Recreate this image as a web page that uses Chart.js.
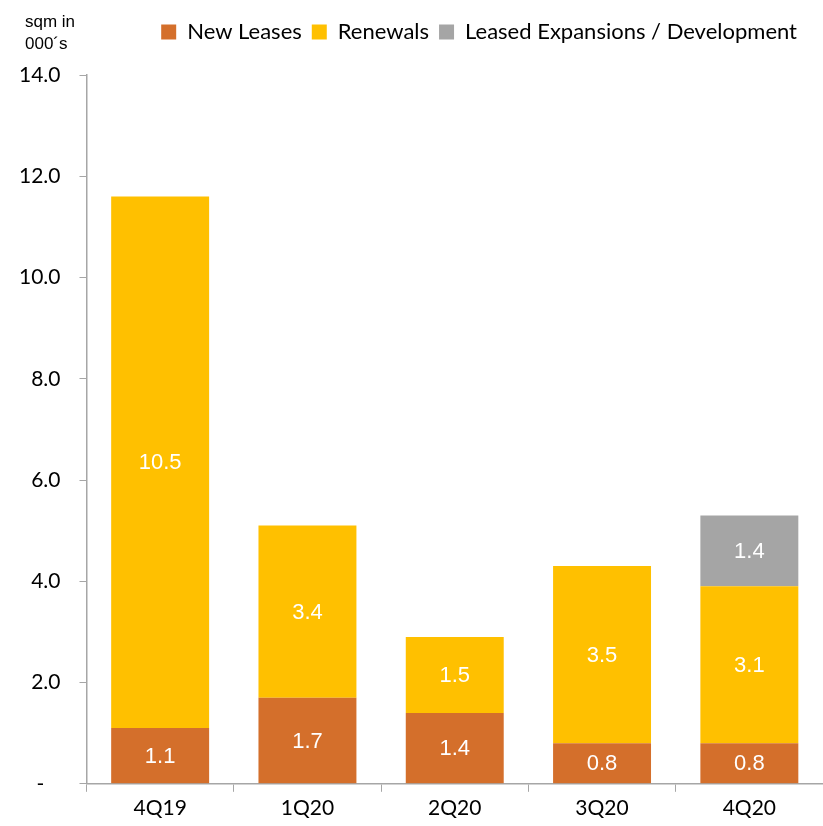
<!DOCTYPE html>
<html>
<head>
<meta charset="utf-8">
<script src="https://cdn.jsdelivr.net/npm/chart.js@4/dist/chart.umd.min.js"></script>
<style>
  html, body { margin: 0; padding: 0; background: #fff; }
  #wrap { width: 823px; height: 826px; }
</style>
</head>
<body>
<div id="wrap"><canvas id="myChart"></canvas></div>
<script>
var quarters = ['4Q19', '1Q20', '2Q20', '3Q20', '4Q20'];
var newLeases = [1.1, 1.7, 1.4, 0.8, 0.8];
var renewals = [10.5, 3.4, 1.5, 3.5, 3.1];
var expansions = [null, null, null, null, 1.4];
var yTicks = [0, 2, 4, 6, 8, 10, 12, 14];

var axisFont = { family: 'Lato, "Liberation Sans", sans-serif', size: 21 };

// white value labels in the middle of each stacked segment
var segmentLabels = {
    id: 'segmentLabels',
    afterDatasetsDraw: function (chart) {
        var c = chart.ctx;
        c.save();
        c.fillStyle = '#ffffff';
        c.font = '22px "Liberation Sans", Arial, sans-serif';
        c.textAlign = 'center';
        c.textBaseline = 'middle';
        chart.data.datasets.forEach(function (ds, i) {
            chart.getDatasetMeta(i).data.forEach(function (bar, j) {
                var v = ds.data[j];
                if (v === null || v === undefined) return;
                c.fillText(v.toFixed(1), bar.x, (bar.y + bar.base) / 2 + 1);
            });
        });
        c.restore();
    }
};

// unit note above the value axis
var unitNote = {
    id: 'unitNote',
    afterDraw: function (chart) {
        var c = chart.ctx;
        c.save();
        c.fillStyle = '#000000';
        c.font = '17px "Liberation Sans", Arial, sans-serif';
        c.textAlign = 'left';
        c.textBaseline = 'middle';
        c.fillText('sqm in', 25, 22);
        c.fillText('000´s', 25, 44);
        c.restore();
    }
};

// more room under the legend, and pull it in from the right edge
var legendSpacing = {
    id: 'legendSpacing',
    beforeInit: function (chart) {
        var fit = chart.legend.fit;
        chart.legend.fit = function () {
            fit.bind(chart.legend)();
            this.height += 22;
        };
    },
    beforeDraw: function (chart) {
        chart.legend.right = 807;
    }
};

var ctx = document.getElementById('myChart').getContext('2d');
var myChart = new Chart(ctx, {
    type: 'bar',
    data: {
        labels: quarters,
        datasets: [{
            label: 'New Leases',
            data: newLeases,
            backgroundColor: '#D46F2B'
        }, {
            label: 'Renewals',
            data: renewals,
            backgroundColor: '#FFC000'
        }, {
            label: 'Leased Expansions / Development',
            data: expansions,
            backgroundColor: '#A5A5A5'
        }]
    },
    options: {
        responsive: true,
        maintainAspectRatio: false,
        animation: false,
        categoryPercentage: 1,
        barPercentage: 0.665,
        layout: { padding: { top: 11, right: 0, left: 0, bottom: 1 } },
        plugins: {
            tooltip: { enabled: false },
            legend: {
                position: 'top',
                align: 'end',
                labels: {
                    boxWidth: 15,
                    boxHeight: 15,
                    padding: 10,
                    color: '#000000',
                    font: { family: 'Lato, "Liberation Sans", sans-serif', size: 22 }
                }
            }
        },
        scales: {
            x: {
                stacked: true,
                grid: {
                    display: true,
                    drawOnChartArea: false,
                    drawTicks: true,
                    tickLength: 8,
                    color: '#A6A6A6'
                },
                border: { display: true, color: '#A6A6A6', width: 1.5 },
                ticks: { color: '#000000', font: axisFont, padding: 4 }
            },
            y: {
                stacked: true,
                min: 0,
                max: 14,
                afterBuildTicks: function (axis) {
                    axis.ticks = yTicks.map(function (v) { return { value: v }; });
                },
                grid: {
                    display: true,
                    drawOnChartArea: false,
                    drawTicks: true,
                    tickLength: 7,
                    color: '#A6A6A6'
                },
                border: { display: true, color: '#A6A6A6', width: 1.5 },
                ticks: {
                    color: '#000000',
                    font: axisFont,
                    padding: 19,
                    callback: function (v) {
                        return v === 0 ? '-   ' : v.toFixed(1);
                    }
                }
            }
        }
    },
    plugins: [segmentLabels, unitNote, legendSpacing]
});
</script>
</body>
</html>
